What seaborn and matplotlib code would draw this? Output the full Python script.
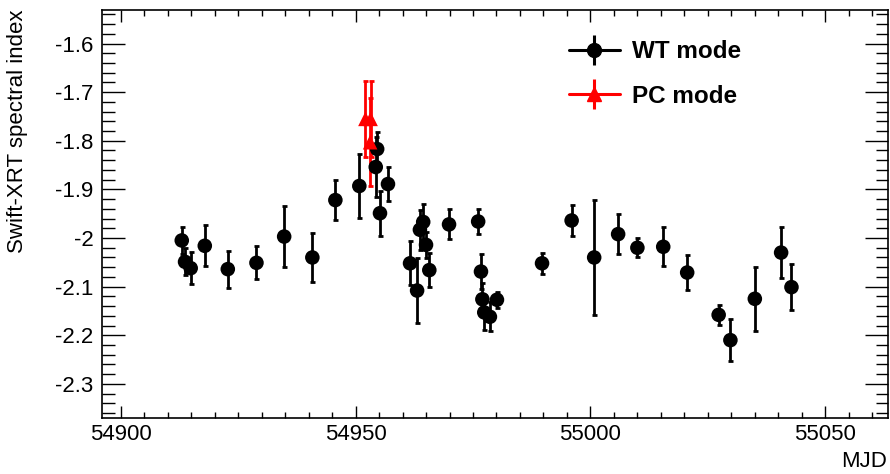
import numpy as np
import pandas as pd
import matplotlib
matplotlib.use("Agg")
import matplotlib.pyplot as plt
import seaborn as sns
from matplotlib.lines import Line2D
from matplotlib.legend_handler import HandlerTuple
from matplotlib.ticker import MultipleLocator, FuncFormatter

# ---- data ----
wt_mjd = [54913.0, 54913.7, 54914.9, 54917.9, 54922.8, 54928.9, 54934.8, 54940.8,
          54945.7, 54950.8, 54954.3, 54954.6, 54956.9, 54955.2,
          54961.6, 54963.1, 54963.7, 54964.4, 54965.0, 54965.7, 54969.9, 54976.1,
          54976.7, 54977.0, 54977.4, 54978.6, 54980.1,
          54989.7, 54996.0, 55000.8, 55005.9, 55010.0, 55015.5, 55020.6,
          55027.3, 55029.8, 55035.0, 55040.6, 55042.8]
wt_index = [-2.005, -2.049, -2.062, -2.016, -2.064, -2.051, -1.997, -2.040,
            -1.922, -1.893, -1.854, -1.817, -1.889, -1.949,
            -2.052, -2.108, -1.983, -1.967, -2.014, -2.066, -1.972, -1.966,
            -2.069, -2.126, -2.153, -2.162, -2.127,
            -2.052, -1.964, -2.040, -1.992, -2.020, -2.018, -2.071,
            -2.158, -2.210, -2.125, -2.030, -2.101]
wt_err = [0.027, 0.028, 0.033, 0.042, 0.038, 0.034, 0.062, 0.051,
          0.041, 0.066, 0.062, 0.036, 0.035, 0.046,
          0.045, 0.067, 0.041, 0.037, 0.027, 0.035, 0.031, 0.026,
          0.036, 0.033, 0.036, 0.030, 0.016,
          0.021, 0.031, 0.118, 0.041, 0.019, 0.040, 0.036,
          0.021, 0.043, 0.066, 0.052, 0.048]

pc_mjd = [54952.1, 54953.2, 54953.1]
pc_index = [-1.755, -1.755, -1.803]
pc_err = [0.078, 0.078, 0.090]

modes = ["WT mode", "PC mode"]
colors = {"WT mode": "black", "PC mode": "red"}
markers = {"WT mode": "o", "PC mode": "^"}

xlim = (54895.96, 55063.4)
ylim = (-2.3695, -1.531)
xticks = [54900, 54950, 55000, 55050]
yticks = [-2.3, -2.2, -2.1, -2.0, -1.9, -1.8, -1.7, -1.6]

df = pd.DataFrame({
    "MJD": wt_mjd + pc_mjd,
    "index": wt_index + pc_index,
    "err": wt_err + pc_err,
    "mode": [modes[0]] * len(wt_mjd) + [modes[1]] * len(pc_mjd),
})

# ---- style ----
sns.set_theme(style="ticks")
plt.rcParams["font.family"] = ["Liberation Sans", "DejaVu Sans"]
plt.rcParams["axes.unicode_minus"] = False
plt.rcParams["text.color"] = "black"
plt.rcParams["axes.labelcolor"] = "black"

fig = plt.figure(figsize=(8.9, 4.74), dpi=100)
ax = fig.add_axes([0.1143, 0.1188, 0.8837, 0.8602])

for m in modes:
    sub = df[df["mode"] == m]
    ax.errorbar(sub["MJD"], sub["index"], yerr=sub["err"], fmt="none",
                ecolor=colors[m], elinewidth=2.0, capsize=1.8, capthick=2.0, zorder=2)

sns.scatterplot(data=df, x="MJD", y="index", hue="mode", style="mode",
                palette=colors, markers=markers, s=110, edgecolor="none",
                legend=False, ax=ax, zorder=3)

ax.set_xlim(*xlim)
ax.set_ylim(*ylim)
ax.set_xticks(xticks)
ax.set_yticks(yticks)
ax.xaxis.set_minor_locator(MultipleLocator(5))
ax.yaxis.set_minor_locator(MultipleLocator(0.02))
ax.xaxis.set_major_formatter(FuncFormatter(lambda v, p: f"{v:.0f}"))
ax.yaxis.set_major_formatter(FuncFormatter(lambda v, p: f"{v:g}"))

ax.tick_params(axis="both", which="both", direction="in", top=True, right=True,
               colors="black", width=1.0, labelsize=16)
ax.tick_params(axis="x", which="major", length=8.6, pad=4.5)
ax.tick_params(axis="x", which="minor", length=4.3)
ax.tick_params(axis="y", which="major", length=16.6, pad=6)
ax.tick_params(axis="y", which="minor", length=9.0)
for sp in ax.spines.values():
    sp.set_linewidth(1.2)
    sp.set_color("black")

ax.set_xlabel("MJD", fontsize=16, loc="right", color="black")
ax.xaxis.set_label_coords(0.9988, -0.081)
ax.set_ylabel("Swift-XRT spectral index", fontsize=16, loc="top", color="black")
ax.yaxis.set_label_coords(-0.0937, 1.0)

# legend (ROOT-like: line + error bar + marker)
def handle(m):
    c = colors[m]
    return (Line2D([], [], color=c, lw=2.2),
            Line2D([], [], color=c, marker="|", markersize=22, mew=2.2, ls=""),
            Line2D([], [], color=c, marker=markers[m], markersize=10, ls=""))

leg = ax.legend([handle(m) for m in modes], modes,
                handler_map={tuple: HandlerTuple(ndivide=1, pad=0)},
                loc="upper left", bbox_to_anchor=(0.594, 0.926),
                frameon=False, handlelength=2.1, handletextpad=0.5,
                borderpad=0, borderaxespad=0, labelcolor="black",
                labelspacing=0.88, prop={"weight": "bold", "size": 17.5})

fig.savefig("out.png", dpi=100)
